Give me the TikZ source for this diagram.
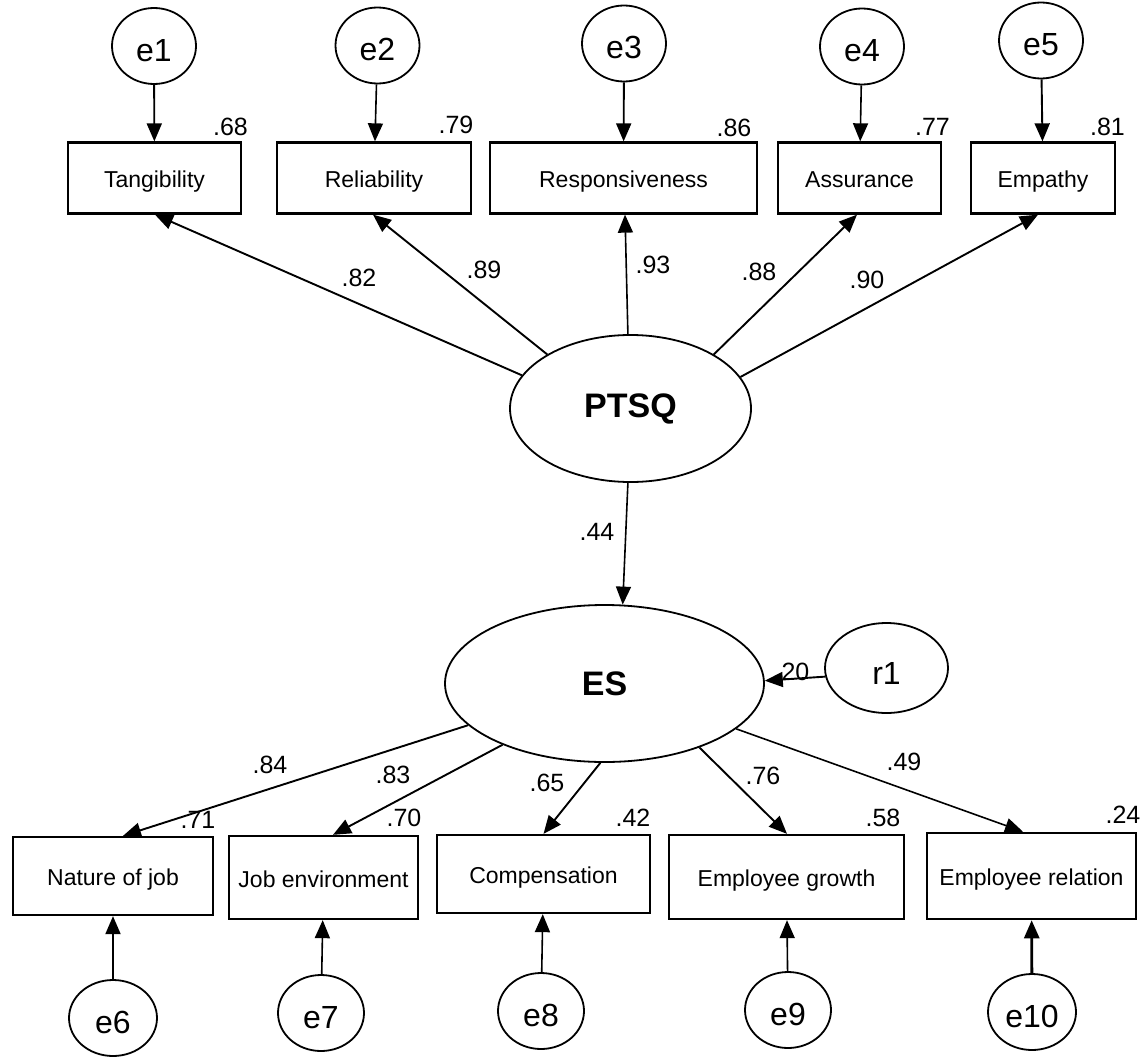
\documentclass[tikz,border=0pt]{standalone}
\usepackage{fontspec}
\setmainfont{Liberation Sans}
\usetikzlibrary{arrows.meta,shapes.geometric}
\begin{document}
\begin{tikzpicture}[x=1pt,y=-1pt,
  box/.style={draw,line width=2.3pt,rectangle,inner sep=0pt,text height=24pt,text depth=5pt,font=\fontsize{23}{27}\selectfont},
  err/.style={draw,line width=1.8pt,ellipse,inner sep=0pt,minimum width=84pt,minimum height=76pt,text height=31pt,font=\fontsize{32}{36}\selectfont},
  lat/.style={draw,line width=1.8pt,ellipse,inner sep=0pt,font=\bfseries\fontsize{34}{40}\selectfont},
  coef/.style={inner sep=0pt,font=\fontsize{25}{30}\selectfont},
  arr/.style={line width=1.9pt,-{Triangle[length=18pt,width=15pt]}}]
\useasboundingbox (0,0) rectangle (1143,1057);
\fill[white] (0,0) rectangle (1143,1057);

% top error terms
\node[err] (e1) at (154,46) {e1};
\node[err] (e2) at (377.5,45.5) {e2};
\node[err] (e3) at (624,43.5) {e3};
\node[err] (e4) at (862,46.5) {e4};
\node[err] (e5) at (1041,40.5) {e5};

% top indicators
\node[box,minimum width=173pt,minimum height=71pt] (tang) at (154.5,178) {Tangibility};
\node[box,minimum width=194pt,minimum height=71pt] (rel) at (374,178) {Reliability};
\node[box,minimum width=267pt,minimum height=71pt] (resp) at (623.5,178) {Responsiveness};
\node[box,minimum width=163pt,minimum height=71pt] (assur) at (859.5,178) {Assurance};
\node[box,minimum width=144pt,minimum height=71pt] (emp) at (1043,178) {Empathy};

% latent variables
\node[lat,minimum width=241pt,minimum height=147pt] (ptsq) at (630.5,408.5) {PTSQ};
\node[lat,minimum width=319pt,minimum height=157pt] (es) at (604.5,683.5) {ES};
\node[err,minimum width=123pt,minimum height=90pt,text height=32pt] (r1) at (886.5,668) {r1};

% bottom indicators
\node[box,minimum width=200pt,minimum height=78pt] (nat) at (113,876) {Nature of job};
\node[box,minimum width=189pt,minimum height=83pt] (job) at (323.5,877.5) {Job environment};
\node[box,minimum width=213pt,minimum height=78pt] (comp) at (543.5,874) {Compensation};
\node[box,minimum width=235pt,minimum height=84pt] (growth) at (786.5,877) {Employee growth};
\node[box,minimum width=209pt,minimum height=86pt,line width=2.6pt] (relb) at (1031.5,876) {Employee relation};

% bottom error terms
\node[err,minimum width=88pt] (e6) at (113,1018) {e6};
\node[err,minimum width=86pt] (e7) at (321,1013) {e7};
\node[err,minimum width=86pt] (e8) at (541,1011) {e8};
\node[err,minimum width=86pt] (e9) at (788,1010) {e9};
\node[err,minimum width=88pt] (e10) at (1032,1012) {e10};

% coefficients
\node[coef] (c68) at (230.5,127) {.68};
\node[coef] (c79) at (456,125) {.79};
\node[coef] (c86) at (734,128) {.86};
\node[coef] (c77) at (932.5,127) {.77};
\node[coef] (c81) at (1107.5,127) {.81};
\node[coef] (c82) at (359,278) {.82};
\node[coef] (c89) at (484,270) {.89};
\node[coef] (c93) at (653,265) {.93};
\node[coef] (c88) at (759,272) {.88};
\node[coef] (c90) at (867,280) {.90};
\node[coef] (c44) at (597,532) {.44};
\node[coef] (c20) at (792,672) {.20};
\node[coef] (c84) at (270,765) {.84};
\node[coef] (c83) at (393,775) {.83};
\node[coef] (c65) at (547,783) {.65};
\node[coef] (c76) at (763,776) {.76};
\node[coef] (c49) at (904,762) {.49};
\node[coef] (c71) at (198,820) {.71};
\node[coef] (c70) at (404,818) {.70};
\node[coef] (c42) at (633,818) {.42};
\node[coef] (c58) at (883,818) {.58};
\node[coef] (c24) at (1123,815) {.24};

% error arrows (top)
\draw[arr] (e1) -- (tang);
\draw[arr,line width=1.6pt] (e2) -- (rel);
\draw[arr] (e3) -- (resp);
\draw[arr,line width=1.6pt] (e4) -- (assur);
\draw[arr] (e5) -- (emp);

% loadings PTSQ
\draw[arr] (ptsq.163.6) -- ([xshift=0.5pt]tang.south);
\draw[arr] (ptsq.147.4) -- ([xshift=-1pt]rel.south);
\draw[arr,line width=1.6pt] (ptsq.92.4) -- ([xshift=1.5pt]resp.south);
\draw[arr] (ptsq.33.5) -- ([xshift=-2.5pt]assur.south);
\draw[arr] (ptsq.16.6) -- ([xshift=-5pt]emp.south);

% structural path and residual
\draw[arr,line width=1.6pt] (ptsq.268) -- (es.77);
\draw[arr] (r1.188) -- (es.1.3);

% loadings ES
\draw[arr] (es.197.8) -- ([xshift=10pt]nat.north);
\draw[arr] (es.211.6) -- ([xshift=9.5pt]job.north);
\draw[arr] (es.267) -- (comp.north);
\draw[arr] (es.326.7) -- ([xshift=0.5pt]growth.north);
\draw[arr,line width=1.6pt] (es.341.6) -- ([xshift=-8.5pt]relb.north);

% error arrows (bottom)
\draw[arr] (e6) -- (nat);
\draw[arr,line width=1.6pt] (e7) -- (job);
\draw[arr,line width=1.6pt] (e8) -- (comp);
\draw[arr,line width=1.6pt] (e9) -- (growth);
\draw[arr,line width=2.8pt] (e10) -- (relb);
\end{tikzpicture}
\end{document}
